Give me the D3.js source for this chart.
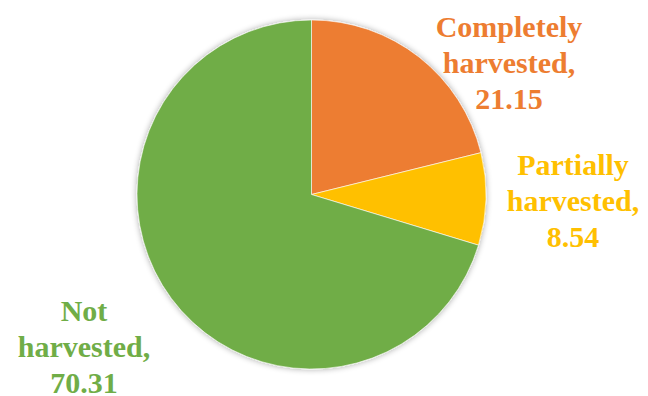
<!DOCTYPE html>
<html>
<head>
<meta charset="utf-8">
<script src="https://cdn.jsdelivr.net/npm/d3@7"></script>
<style>
  html, body { margin: 0; padding: 0; background: #fff; }
  svg { display: block; }
  text.lbl { font-family: "Times New Roman", "Liberation Serif", "DejaVu Serif", serif; font-weight: 700; font-size: 30px; }
</style>
</head>
<body>
<svg id="chart" width="648" height="396"></svg>
<script>
// Share of harvesting status (%)
const categories = ["Completely harvested", "Partially harvested", "Not harvested"];
const values = [21.15, 8.54, 70.31];
const labelLines = [["Completely", "harvested,", "21.15"], ["Partially", "harvested,", "8.54"], ["Not", "harvested,", "70.31"]];
const colors = ["#ED7D31", "#FFC000", "#70AD47"];

const width = 648, height = 396;
const cx = 311.5, cy = 194.5, radius = 174.5;

const svg = d3.select("#chart");

// soft shadow around the pie
const defs = svg.append("defs");
const f = defs.append("filter").attr("id", "shadow")
  .attr("x", "-10%").attr("y", "-10%").attr("width", "120%").attr("height", "120%");
f.append("feGaussianBlur").attr("in", "SourceAlpha").attr("stdDeviation", 3).attr("result", "blur");
f.append("feComponentTransfer").attr("in", "blur").attr("result", "faded")
  .append("feFuncA").attr("type", "linear").attr("slope", 0.35);
const merge = f.append("feMerge");
merge.append("feMergeNode").attr("in", "faded");
merge.append("feMergeNode").attr("in", "SourceGraphic");

const pie = d3.pie().sort(null).value(d => d.value);
const data = pie(categories.map((c, i) => ({ name: c, value: values[i], lines: labelLines[i], color: colors[i] })));
const arc = d3.arc().innerRadius(0).outerRadius(radius);

const g = svg.append("g").attr("transform", `translate(${cx},${cy})`);
g.append("g").attr("filter", "url(#shadow)")
  .selectAll("path").data(data).join("path")
  .attr("d", arc)
  .attr("fill", d => d.data.color)
  .attr("stroke", "#ffffff")
  .attr("stroke-width", 0.6);

// label anchor points (centre of first line baseline)
const labelPos = [[509, 37], [573, 175], [84, 321]];
const lineGap = 36;

svg.selectAll("text.lbl").data(data).join("text")
  .attr("class", "lbl")
  .attr("text-anchor", "middle")
  .attr("fill", d => d.data.color)
  .each(function(d, i) {
    const t = d3.select(this);
    d.data.lines.forEach((line, j) => {
      t.append("tspan").attr("x", labelPos[i][0]).attr("y", labelPos[i][1] + j * lineGap).text(line);
    });
  });
</script>
</body>
</html>
